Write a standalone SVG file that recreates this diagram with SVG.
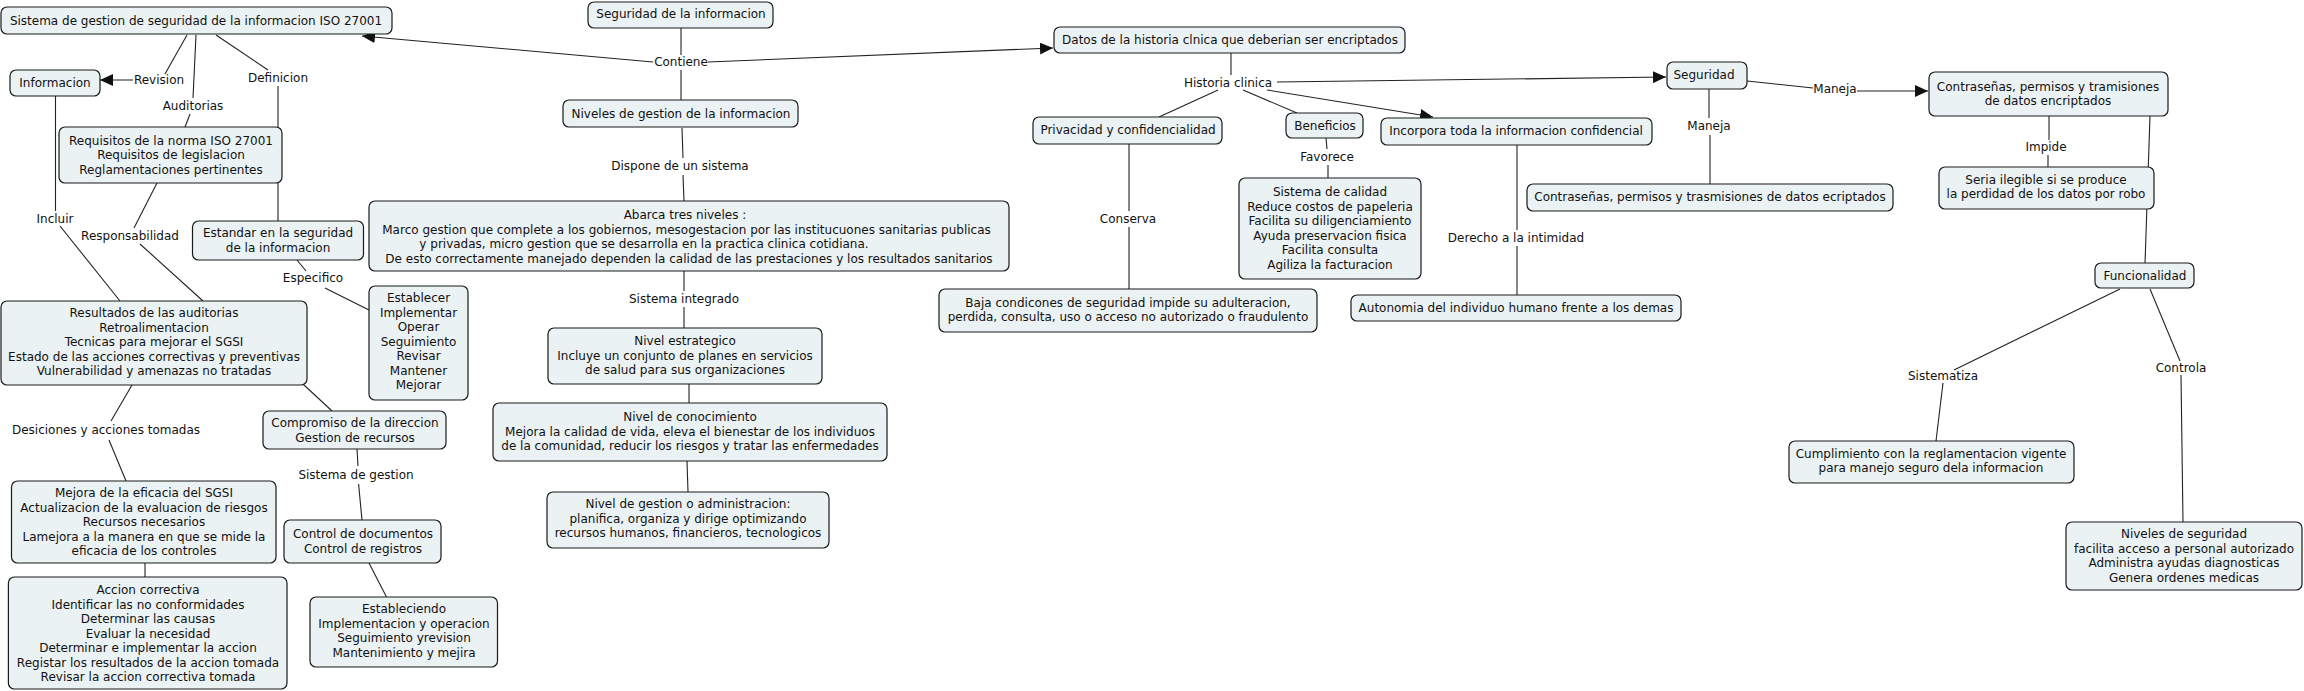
<svg xmlns="http://www.w3.org/2000/svg" width="2304" height="691" viewBox="0 0 2304 691">
<defs>
<style>
.bg{fill:#ffffff}
.n rect{fill:#ebf2f4;stroke:#1a1a1a;stroke-width:1.2}
text{font-family:"DejaVu Sans","Verdana",sans-serif;font-size:12px;fill:#111;text-anchor:middle}
.c line{stroke:#222;stroke-width:1.1;fill:none}
</style>
<marker id="ah" markerUnits="userSpaceOnUse" markerWidth="14" markerHeight="12" refX="13" refY="6" orient="auto">
<path d="M0,0 L13,6 L0,12 z" fill="#111"/>
</marker>
</defs>
<rect class="bg" x="0" y="0" width="2304" height="691"/>
<g id="connectors" class="c">
<line x1="187" y1="35" x2="165" y2="74"/>
<line x1="133" y1="80" x2="100" y2="80" marker-end="url(#ah)"/>
<line x1="196" y1="35" x2="193" y2="98"/>
<line x1="190" y1="114" x2="185" y2="127"/>
<line x1="216" y1="35" x2="268" y2="70"/>
<line x1="278" y1="86" x2="278" y2="221"/>
<line x1="55.5" y1="96" x2="55.5" y2="211"/>
<line x1="60" y1="226" x2="120" y2="301"/>
<line x1="157" y1="183" x2="134" y2="228"/>
<line x1="140" y1="244" x2="203" y2="301"/>
<line x1="297" y1="260" x2="306" y2="271"/>
<line x1="325" y1="288" x2="369" y2="310"/>
<line x1="132" y1="385" x2="111" y2="421"/>
<line x1="109" y1="440" x2="126" y2="481"/>
<line x1="145" y1="563" x2="145" y2="577"/>
<line x1="304" y1="385" x2="332" y2="411"/>
<line x1="357" y1="449" x2="358" y2="466"/>
<line x1="358.6" y1="484" x2="362" y2="520"/>
<line x1="369" y1="563" x2="386.5" y2="597"/>
<line x1="681" y1="28" x2="681" y2="55"/>
<line x1="681" y1="70" x2="681" y2="100"/>
<line x1="653" y1="62" x2="362" y2="36" marker-end="url(#ah)"/>
<line x1="708" y1="62" x2="1053" y2="48" marker-end="url(#ah)"/>
<line x1="682" y1="128" x2="683" y2="158"/>
<line x1="683" y1="175" x2="684" y2="201"/>
<line x1="684" y1="271" x2="684" y2="291"/>
<line x1="684" y1="307" x2="684" y2="328"/>
<line x1="689" y1="384" x2="689" y2="403"/>
<line x1="687" y1="461" x2="688" y2="492"/>
<line x1="1231" y1="53" x2="1231" y2="75"/>
<line x1="1218" y1="90" x2="1159" y2="117"/>
<line x1="1243" y1="90" x2="1297" y2="113"/>
<line x1="1267" y1="90" x2="1433" y2="117" marker-end="url(#ah)"/>
<line x1="1277" y1="82" x2="1666" y2="77" marker-end="url(#ah)"/>
<line x1="1326" y1="138" x2="1327" y2="149"/>
<line x1="1328" y1="165" x2="1328" y2="178"/>
<line x1="1129" y1="144" x2="1129" y2="211"/>
<line x1="1129" y1="227" x2="1129" y2="289"/>
<line x1="1517" y1="145" x2="1517" y2="230"/>
<line x1="1517" y1="246" x2="1517" y2="295"/>
<line x1="1709" y1="89" x2="1709" y2="118"/>
<line x1="1710" y1="135" x2="1710" y2="184"/>
<line x1="1747" y1="81" x2="1813" y2="88"/>
<line x1="1857" y1="91" x2="1928" y2="91" marker-end="url(#ah)"/>
<line x1="2049" y1="116" x2="2049" y2="140"/>
<line x1="2048" y1="155" x2="2048" y2="167"/>
<line x1="2150" y1="116" x2="2145" y2="264"/>
<line x1="2120" y1="289" x2="1954" y2="370"/>
<line x1="1943" y1="383" x2="1936" y2="441"/>
<line x1="2150" y1="289" x2="2180" y2="361"/>
<line x1="2181" y1="375" x2="2183" y2="522"/>
</g>
<g id="labels">
<text x="159" y="84">Revision</text>
<text x="193" y="110">Auditorias</text>
<text x="278" y="82">Definicion</text>
<text x="55" y="223">Incluir</text>
<text x="130" y="240">Responsabilidad</text>
<text x="313" y="282">Especifico</text>
<text x="106" y="434">Desiciones y acciones tomadas</text>
<text x="356" y="479">Sistema de gestion</text>
<text x="681" y="66">Contiene</text>
<text x="680" y="170">Dispone de un sistema</text>
<text x="684" y="303">Sistema integrado</text>
<text x="1228" y="87">Historia clinica</text>
<text x="1327" y="161">Favorece</text>
<text x="1128" y="223">Conserva</text>
<text x="1516" y="242">Derecho a la intimidad</text>
<text x="1709" y="130">Maneja</text>
<text x="1835" y="93">Maneja</text>
<text x="2046" y="151">Impide</text>
<text x="1943" y="380">Sistematiza</text>
<text x="2181" y="372">Controla</text>
</g>
<g id="n1" class="n"><rect x="1" y="7" width="391" height="27" rx="6"/><text x="196" y="25">Sistema de gestion de seguridad de la informacion ISO 27001</text></g>
<g id="n2" class="n"><rect x="10" y="70" width="90" height="26" rx="6"/><text x="55" y="87">Informacion</text></g>
<g id="n3" class="n"><rect x="59" y="127" width="223" height="56" rx="6"/><text x="171" y="144.5">Requisitos de la norma ISO 27001</text><text x="171" y="159">Requisitos de legislacion</text><text x="171" y="173.5">Reglamentaciones pertinentes</text></g>
<g id="n4" class="n"><rect x="192.5" y="221" width="171" height="39" rx="6"/><text x="278" y="237">Estandar en la seguridad</text><text x="278" y="252">de la informacion</text></g>
<g id="n5" class="n"><rect x="1" y="301" width="306" height="84" rx="6"/><text x="154" y="317">Resultados de las auditorias</text><text x="154" y="331.5">Retroalimentacion</text><text x="154" y="346">Tecnicas para mejorar el SGSI</text><text x="154" y="360.5">Estado de las acciones correctivas y preventivas</text><text x="154" y="375">Vulnerabilidad y amenazas no tratadas</text></g>
<g id="n6" class="n"><rect x="369" y="286" width="99" height="114" rx="6"/><text x="418.5" y="302">Establecer</text><text x="418.5" y="316.5">Implementar</text><text x="418.5" y="331">Operar</text><text x="418.5" y="345.5">Seguimiento</text><text x="418.5" y="360">Revisar</text><text x="418.5" y="374.5">Mantener</text><text x="418.5" y="389">Mejorar</text></g>
<g id="n7" class="n"><rect x="11.5" y="481" width="264.5" height="82" rx="6"/><text x="144" y="497">Mejora de la eficacia del SGSI</text><text x="144" y="511.5">Actualizacion de la evaluacion de riesgos</text><text x="144" y="526">Recursos necesarios</text><text x="144" y="540.5">Lamejora a la manera en que se mide la</text><text x="144" y="555">eficacia de los controles</text></g>
<g id="n8" class="n"><rect x="8.4" y="577" width="278.6" height="112" rx="6"/><text x="148" y="594">Accion correctiva</text><text x="148" y="608.5">Identificar las no conformidades</text><text x="148" y="623">Determinar las causas</text><text x="148" y="637.5">Evaluar la necesidad</text><text x="148" y="652">Determinar e implementar la accion</text><text x="148" y="666.5">Registar los resultados de la accion tomada</text><text x="148" y="681">Revisar la accion correctiva tomada</text></g>
<g id="n9" class="n"><rect x="263" y="411" width="183" height="38" rx="6"/><text x="355" y="427">Compromiso de la direccion</text><text x="355" y="441.5">Gestion de recursos</text></g>
<g id="n10" class="n"><rect x="284" y="520" width="157" height="43" rx="6"/><text x="363" y="538">Control de documentos</text><text x="363" y="552.5">Control de registros</text></g>
<g id="n11" class="n"><rect x="310" y="597" width="187.5" height="70" rx="6"/><text x="404" y="613">Estableciendo</text><text x="404" y="627.5">Implementacion y operacion</text><text x="404" y="642">Seguimiento yrevision</text><text x="404" y="656.5">Mantenimiento y mejira</text></g>
<g id="n12" class="n"><rect x="588" y="2" width="185" height="26" rx="6"/><text x="681" y="18">Seguridad de la informacion</text></g>
<g id="n13" class="n"><rect x="563" y="100" width="235" height="27" rx="6"/><text x="681" y="117.5">Niveles de gestion de la informacion</text></g>
<g id="n14" class="n"><rect x="369" y="201" width="640" height="70" rx="6"/><text x="685" y="219">Abarca tres niveles :</text><text x="686.5" y="234">Marco gestion que complete a los gobiernos, mesogestacion por las institucuones sanitarias publicas</text><text x="644" y="248">y privadas, micro gestion que se desarrolla en la practica clinica cotidiana.</text><text x="689" y="263">De esto correctamente manejado dependen la calidad de las prestaciones y los resultados sanitarios</text></g>
<g id="n15" class="n"><rect x="548" y="328" width="274" height="56" rx="6"/><text x="685" y="345">Nivel estrategico</text><text x="685" y="360">Incluye un conjunto de planes en servicios</text><text x="685" y="374">de salud para sus organizaciones</text></g>
<g id="n16" class="n"><rect x="493" y="403" width="394" height="58" rx="6"/><text x="690" y="421">Nivel de conocimiento</text><text x="690" y="435.5">Mejora la calidad de vida, eleva el bienestar de los individuos</text><text x="690" y="450">de la comunidad, reducir los riesgos y tratar las enfermedades</text></g>
<g id="n17" class="n"><rect x="547" y="492" width="282" height="56" rx="6"/><text x="688" y="508">Nivel de gestion o administracion:</text><text x="688" y="523">planifica, organiza y dirige optimizando</text><text x="688" y="537">recursos humanos, financieros, tecnologicos</text></g>
<g id="n18" class="n"><rect x="1054" y="27" width="351" height="26" rx="6"/><text x="1230" y="43.5">Datos de la historia clnica que deberian ser encriptados</text></g>
<g id="n19" class="n"><rect x="1033" y="117" width="189" height="27" rx="6"/><text x="1128" y="134">Privacidad y confidencialidad</text></g>
<g id="n20" class="n"><rect x="1286" y="113" width="77" height="25" rx="6"/><text x="1325" y="129.5">Beneficios</text></g>
<g id="n21" class="n"><rect x="1239" y="178" width="182" height="101" rx="6"/><text x="1330" y="196">Sistema de calidad</text><text x="1330" y="210.5">Reduce costos de papeleria</text><text x="1330" y="225">Facilita su diligenciamiento</text><text x="1330" y="239.5">Ayuda preservacion fisica</text><text x="1330" y="254">Facilita consulta</text><text x="1330" y="268.5">Agiliza la facturacion</text></g>
<g id="n22" class="n"><rect x="1381" y="118" width="271" height="27" rx="6"/><text x="1516" y="135">Incorpora toda la informacion confidencial</text></g>
<g id="n23" class="n"><rect x="939" y="289" width="378" height="43" rx="6"/><text x="1128" y="307">Baja condicones de seguridad impide su adulteracion,</text><text x="1128" y="321">perdida, consulta, uso o acceso no autorizado o fraudulento</text></g>
<g id="n24" class="n"><rect x="1351" y="295" width="330" height="26" rx="6"/><text x="1516" y="312">Autonomia del individuo humano frente a los demas</text></g>
<g id="n25" class="n"><rect x="1667" y="62" width="80" height="27" rx="6"/><text x="1704" y="79">Seguridad</text></g>
<g id="n26" class="n"><rect x="1527" y="184" width="366" height="27" rx="6"/><text x="1710" y="201">Contraseñas, permisos y trasmisiones de datos ecriptados</text></g>
<g id="n27" class="n"><rect x="1929" y="72" width="239" height="44" rx="6"/><text x="2048" y="91">Contraseñas, permisos y tramisiones</text><text x="2048" y="105">de datos encriptados</text></g>
<g id="n28" class="n"><rect x="1939" y="167" width="215" height="42" rx="6"/><text x="2046" y="184">Seria ilegible si se produce</text><text x="2046" y="198">la perdidad de los datos por robo</text></g>
<g id="n29" class="n"><rect x="2095" y="263" width="99" height="25" rx="6"/><text x="2145" y="280">Funcionalidad</text></g>
<g id="n30" class="n"><rect x="1789" y="441" width="285" height="42" rx="6"/><text x="1931" y="458">Cumplimiento con la reglamentacion vigente</text><text x="1931" y="472">para manejo seguro dela informacion</text></g>
<g id="n31" class="n"><rect x="2066" y="522" width="236" height="68" rx="6"/><text x="2184" y="538">Niveles de seguridad</text><text x="2184" y="552.5">facilita acceso a personal autorizado</text><text x="2184" y="567">Administra ayudas diagnosticas</text><text x="2184" y="581.5">Genera ordenes medicas</text></g>
</svg>
